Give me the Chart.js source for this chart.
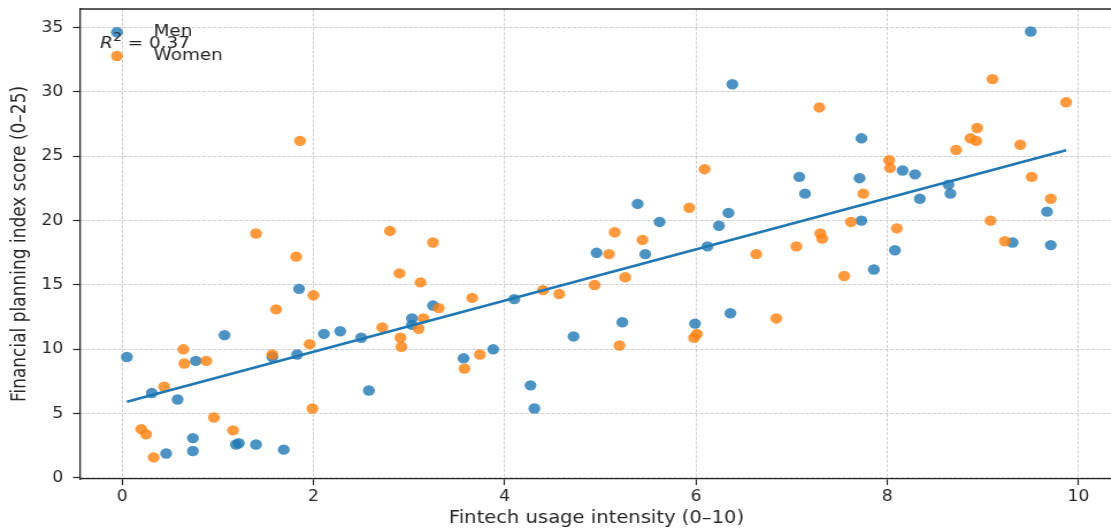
<!DOCTYPE html>
<html><head><meta charset="utf-8">
<script src="https://cdn.jsdelivr.net/npm/chart.js@4.4.1/dist/chart.umd.min.js"></script>
<style>
html,body{margin:0;padding:0;background:#fff;overflow:hidden;}
#wrap{width:1111px;height:531px;overflow:hidden;position:relative;background:#fff;}
#c{position:absolute;left:0;top:0;transform:scaleX(1.15);transform-origin:0 0;}
</style></head><body>
<div id="wrap"><canvas id="c" width="975" height="531"></canvas></div>
<script>
// ---- data ----
const menX = [0.05,0.31,0.46,0.58,0.74,0.74,0.77,1.07,1.19,1.22,1.40,1.57,1.69,1.83,1.85,2.11,2.28,2.50,2.58,3.03,3.03,3.25,3.57,3.88,4.10,4.27,4.31,4.72,4.96,5.23,5.39,5.47,5.62,5.99,6.12,6.24,6.34,6.36,6.38,7.08,7.14,7.71,7.73,7.73,7.86,8.08,8.16,8.29,8.34,8.64,8.66,9.31,9.50,9.67,9.71];
const menY = [9.4,6.6,1.9,6.1,3.1,2.1,9.1,11.1,2.6,2.7,2.6,9.4,2.2,9.6,14.7,11.2,11.4,10.9,6.8,12.4,11.9,13.4,9.3,10.0,13.9,7.2,5.4,11.0,17.5,12.1,21.3,17.4,19.9,12.0,18.0,19.6,20.6,12.8,30.6,23.4,22.1,23.3,26.4,20.0,16.2,17.7,23.9,23.6,21.7,22.8,22.1,18.3,34.7,20.7,18.1];
const womenX = [0.20,0.25,0.33,0.44,0.64,0.65,0.88,0.96,1.16,1.40,1.57,1.61,1.82,1.86,1.96,1.99,2.00,2.72,2.80,2.90,2.91,2.92,3.10,3.12,3.15,3.25,3.31,3.58,3.66,3.74,4.40,4.57,4.94,5.09,5.15,5.20,5.26,5.44,5.93,5.98,6.01,6.09,6.63,6.84,7.05,7.29,7.30,7.32,7.55,7.62,7.75,8.02,8.03,8.10,8.72,8.87,8.93,8.94,9.08,9.10,9.23,9.39,9.51,9.71,9.87];
const womenY = [3.8,3.4,1.6,7.1,10.0,8.9,9.1,4.7,3.7,19.0,9.6,13.1,17.2,26.2,10.4,5.4,14.2,11.7,19.2,15.9,10.9,10.2,11.6,15.2,12.4,18.3,13.2,8.5,14.0,9.6,14.6,14.3,15.0,17.4,19.1,10.3,15.6,18.5,21.0,10.9,11.2,24.0,17.4,12.4,18.0,28.8,19.0,18.6,15.7,19.9,22.1,24.7,24.1,19.4,25.5,26.4,26.2,27.2,20.0,31.0,18.4,25.9,23.4,21.7,29.2];
const fitIntercept = 5.83;
const fitSlope = 1.99;
const rSquared = "0.37";
const xTicks = [0,2,4,6,8,10];
const yTicks = [0,5,10,15,20,25,30,35];
const seriesNames = ["Men","Women"];
const xTitle = "Fintech usage intensity (0\u201310)";
const yTitle = "Financial planning index score (0\u201325)";

// ---- build ----
const FONT = "'DejaVu Sans', sans-serif";
const TXT = '#262626';
const BLUE = '#1f77b4', ORANGE = '#ff7f0e';
const BLUE_A = 'rgba(31,119,180,0.8)', ORANGE_A = 'rgba(255,127,14,0.8)';
const toPts = (xs, ys) => xs.map((x, i) => ({x, y: ys[i]}));
const allX = menX.concat(womenX);
const x0 = Math.min(...allX), x1 = Math.max(...allX);
const fitLine = [x0, x1].map(x => ({x, y: fitIntercept + fitSlope * x}));

const decor = {
  id: 'decor',
  afterDraw(chart) {
    const {ctx, chartArea: a} = chart;
    ctx.save();
    ctx.strokeStyle = TXT; ctx.lineWidth = 1.3;
    ctx.beginPath();
    ctx.moveTo(a.left, a.top); ctx.lineTo(a.right, a.top); ctx.lineTo(a.right, a.bottom);
    ctx.stroke();
    // legend
    const items = [[seriesNames[0], BLUE_A, 32.3], [seriesNames[1], ORANGE_A, 56]];
    items.forEach(([name, col, y]) => {
      ctx.fillStyle = col;
      ctx.beginPath(); ctx.arc(101.7, y, 5.2, 0, Math.PI * 2); ctx.fill();
      ctx.fillStyle = TXT;
      ctx.font = '16px ' + FONT;
      ctx.textBaseline = 'middle'; ctx.textAlign = 'left';
      ctx.fillText(name, 133.5, y - 0.5);
    });
    // R^2 annotation
    let x = 87, base = 48;
    ctx.textBaseline = 'alphabetic';
    ctx.font = 'italic 16px ' + FONT;
    ctx.fillText('R', x, base);
    x += ctx.measureText('R').width + 0.5;
    ctx.font = '11.5px ' + FONT;
    ctx.fillText('2', x, base - 7);
    x += ctx.measureText('2').width;
    ctx.font = '16px ' + FONT;
    ctx.fillText(' = ' + rSquared, x, base);
    ctx.restore();
  }
};

const gridCommon = {color: 'rgba(176,176,176,0.8)', lineWidth: 0.8, tickLength: 6, tickColor: TXT, tickWidth: 1.2};
const borderCommon = {display: true, color: TXT, width: 1.3, dash: [3, 1.6]};
const zeroPad = s => { s.paddingTop = 0; s.paddingBottom = 0; s.paddingLeft = 0; s.paddingRight = 0; };

new Chart(document.getElementById('c'), {
  type: 'scatter',
  data: {
    datasets: [
      {type: 'line', label: 'fit', data: fitLine, borderColor: BLUE, borderWidth: 2.5, pointRadius: 0, fill: false, order: 0, tension: 0},
      {label: seriesNames[1], data: toPts(womenX, womenY), backgroundColor: ORANGE_A, borderWidth: 0, pointRadius: 5.2, pointHoverRadius: 5.2, order: 1},
      {label: seriesNames[0], data: toPts(menX, menY), backgroundColor: BLUE_A, borderWidth: 0, pointRadius: 5.2, pointHoverRadius: 5.2, order: 2}
    ]
  },
  options: {
    responsive: false, animation: false, devicePixelRatio: 1,
    layout: {autoPadding: false, padding: {top: 9, right: 7.2, left: 0, bottom: 0}},
    plugins: {legend: {display: false}, tooltip: {enabled: false}},
    scales: {
      x: {
        type: 'linear', min: -0.44, max: 10.36,
        afterBuildTicks: s => { s.ticks = xTicks.map(v => ({value: v})); },
        afterFit: s => { s.height = 52; zeroPad(s); },
        ticks: {font: {family: FONT, size: 15}, color: TXT, padding: 3, maxRotation: 0, autoSkip: false},
        grid: gridCommon, border: borderCommon,
        title: {display: true, text: xTitle, font: {family: FONT, size: 17}, color: TXT, padding: {top: 0, bottom: 2}}
      },
      y: {
        type: 'linear', min: -0.08, max: 36.45,
        afterBuildTicks: s => { s.ticks = yTicks.map(v => ({value: v})); },
        afterFit: s => { s.width = 69.6; zeroPad(s); },
        ticks: {font: {family: FONT, size: 15}, color: TXT, padding: 8.5, autoSkip: false},
        grid: gridCommon, border: borderCommon,
        title: {display: true, text: yTitle, font: {family: FONT, size: 17}, color: TXT, padding: {top: 7, bottom: 0}}
      }
    }
  },
  plugins: [decor]
});
</script>
</body></html>
